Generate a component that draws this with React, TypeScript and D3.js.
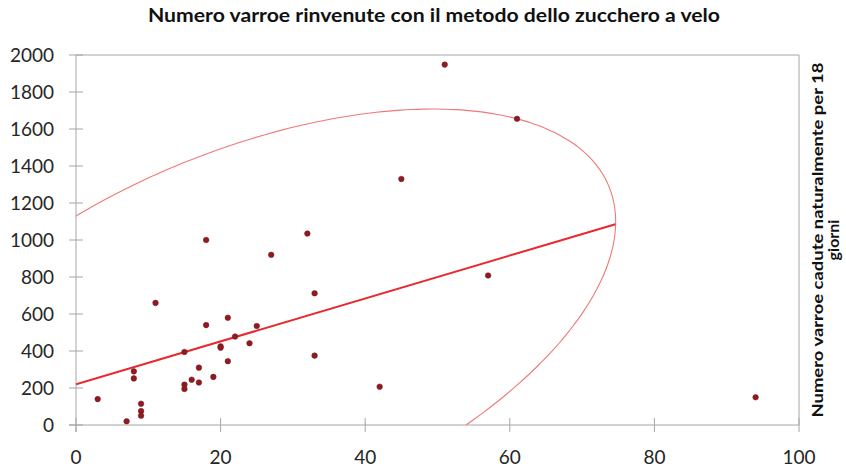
import React from "react";
import * as d3 from "d3";

// ---- data ----
const xValues = [3, 7, 8, 8, 9, 9, 9, 11, 15, 15, 15, 16, 17, 17, 18, 18, 19, 20, 20, 21, 21, 22, 24, 25, 27, 32, 33, 33, 42, 45, 51, 57, 61, 94];
const yValues = [140, 20, 290, 252, 115, 75, 50, 660, 395, 218, 195, 245, 310, 230, 1000, 540, 260, 425, 418, 580, 345, 478, 442, 535, 920, 1035, 712, 375, 207, 1330, 1948, 808, 1655, 150];

const xTicks = [0, 20, 40, 60, 80, 100];
const yTicks = [0, 200, 400, 600, 800, 1000, 1200, 1400, 1600, 1800, 2000];

const regIntercept = 220;
const regSlope = 11.6;
const regXRange = [0, 74.6];

// ellipse (data units): centre and two conjugate semi-axis vectors
const ellipseCenter = [24, 490];
const ellipseAxisA = [49.2, 842];
const ellipseAxisB = [12, -880];

const title = "Numero varroe rinvenute con il metodo dello zucchero a velo";
const yTitleLines = ["Numero varroe cadute naturalmente per 18", "giorni"];

const W = 846;
const H = 469;
const left = 76;
const right = 799;
const top = 55;
const bottom = 425;

export default function App() {
  const x = d3.scaleLinear().domain([0, 100]).range([left, right]);
  const y = d3.scaleLinear().domain([0, 2000]).range([bottom, top]);

  const ellipsePts: [number, number][] = d3.range(0, 360, 2).map((deg) => {
    const t = (deg * Math.PI) / 180;
    const ex = ellipseCenter[0] + ellipseAxisA[0] * Math.cos(t) + ellipseAxisB[0] * Math.sin(t);
    const ey = ellipseCenter[1] + ellipseAxisA[1] * Math.cos(t) + ellipseAxisB[1] * Math.sin(t);
    return [ex, ey];
  });
  const line = d3
    .line<[number, number]>()
    .x((d) => x(d[0]))
    .y((d) => y(d[1]))
    .curve(d3.curveCardinalClosed);
  const ellipsePath = line(ellipsePts) || "";

  const regPath =
    d3
      .line<number>()
      .x((d) => x(d))
      .y((d) => y(regIntercept + regSlope * d))(regXRange) || "";

  const axisColor = "#a6a6a6";
  const font = "Lato, 'Open Sans', sans-serif";

  return (
    <svg
      width={W}
      height={H}
      style={{ position: "absolute", left: 0, top: 0, background: "#fff" }}
      fontFamily={font}
    >
      <defs>
        <clipPath id="plotClip">
          <rect x={left} y={top} width={right - left} height={bottom - top} />
        </clipPath>
      </defs>
      <rect x={0} y={0} width={W} height={H} fill="#fff" />

      {/* plot border */}
      <line x1={left} x2={right} y1={y(2000)} y2={y(2000)} stroke={axisColor} strokeWidth={1} />
      <line x1={right} x2={right} y1={top} y2={bottom} stroke={axisColor} strokeWidth={1} />

      {/* y axis */}
      <line x1={left} x2={left} y1={top} y2={bottom + 7} stroke={axisColor} strokeWidth={1} />
      {yTicks.map((t) => (
        <g key={"y" + t}>
          <line x1={left - 7} x2={left + 7} y1={y(t)} y2={y(t)} stroke={axisColor} strokeWidth={1} />
          <text x={54} y={y(t)} dy="0.36em" textAnchor="end" fontSize={19} fill="#262626">
            {t}
          </text>
        </g>
      ))}

      {/* x axis */}
      <line x1={left - 7} x2={right} y1={bottom} y2={bottom} stroke={axisColor} strokeWidth={1} />
      {xTicks.map((t) => (
        <g key={"x" + t}>
          <line x1={x(t)} x2={x(t)} y1={bottom - 7} y2={bottom + 7} stroke={axisColor} strokeWidth={1} />
          <text x={x(t)} y={464} textAnchor="middle" fontSize={19} fill="#262626">
            {t}
          </text>
        </g>
      ))}

      {/* ellipse and regression */}
      <g clipPath="url(#plotClip)">
        <path d={ellipsePath} fill="none" stroke="#f07878" strokeWidth={1.1} />
        <path d={regPath} fill="none" stroke="#e8282e" strokeWidth={2} />
      </g>

      {/* points */}
      {xValues.map((xv, i) => (
        <circle key={i} cx={x(xv)} cy={y(yValues[i])} r={2.8} fill="#8e1b22" stroke="#7a161c" strokeWidth={0.5} />
      ))}

      {/* title */}
      <text
        x={434}
        y={22}
        textAnchor="middle"
        fontSize={18}
        fontWeight="bold"
        fill="#111"
        textLength={572}
        lengthAdjust="spacingAndGlyphs"
      >
        {title}
      </text>

      {/* right axis title */}
      <g transform="translate(823,240) rotate(-90)">
        <text
          x={0}
          y={0}
          textAnchor="middle"
          fontSize={16}
          fontWeight="bold"
          fill="#111"
          textLength={355}
          lengthAdjust="spacingAndGlyphs"
        >
          {yTitleLines[0]}
        </text>
        <text x={0} y={16} textAnchor="middle" fontSize={16} fontWeight="bold" fill="#111">
          {yTitleLines[1]}
        </text>
      </g>
    </svg>
  );
}
